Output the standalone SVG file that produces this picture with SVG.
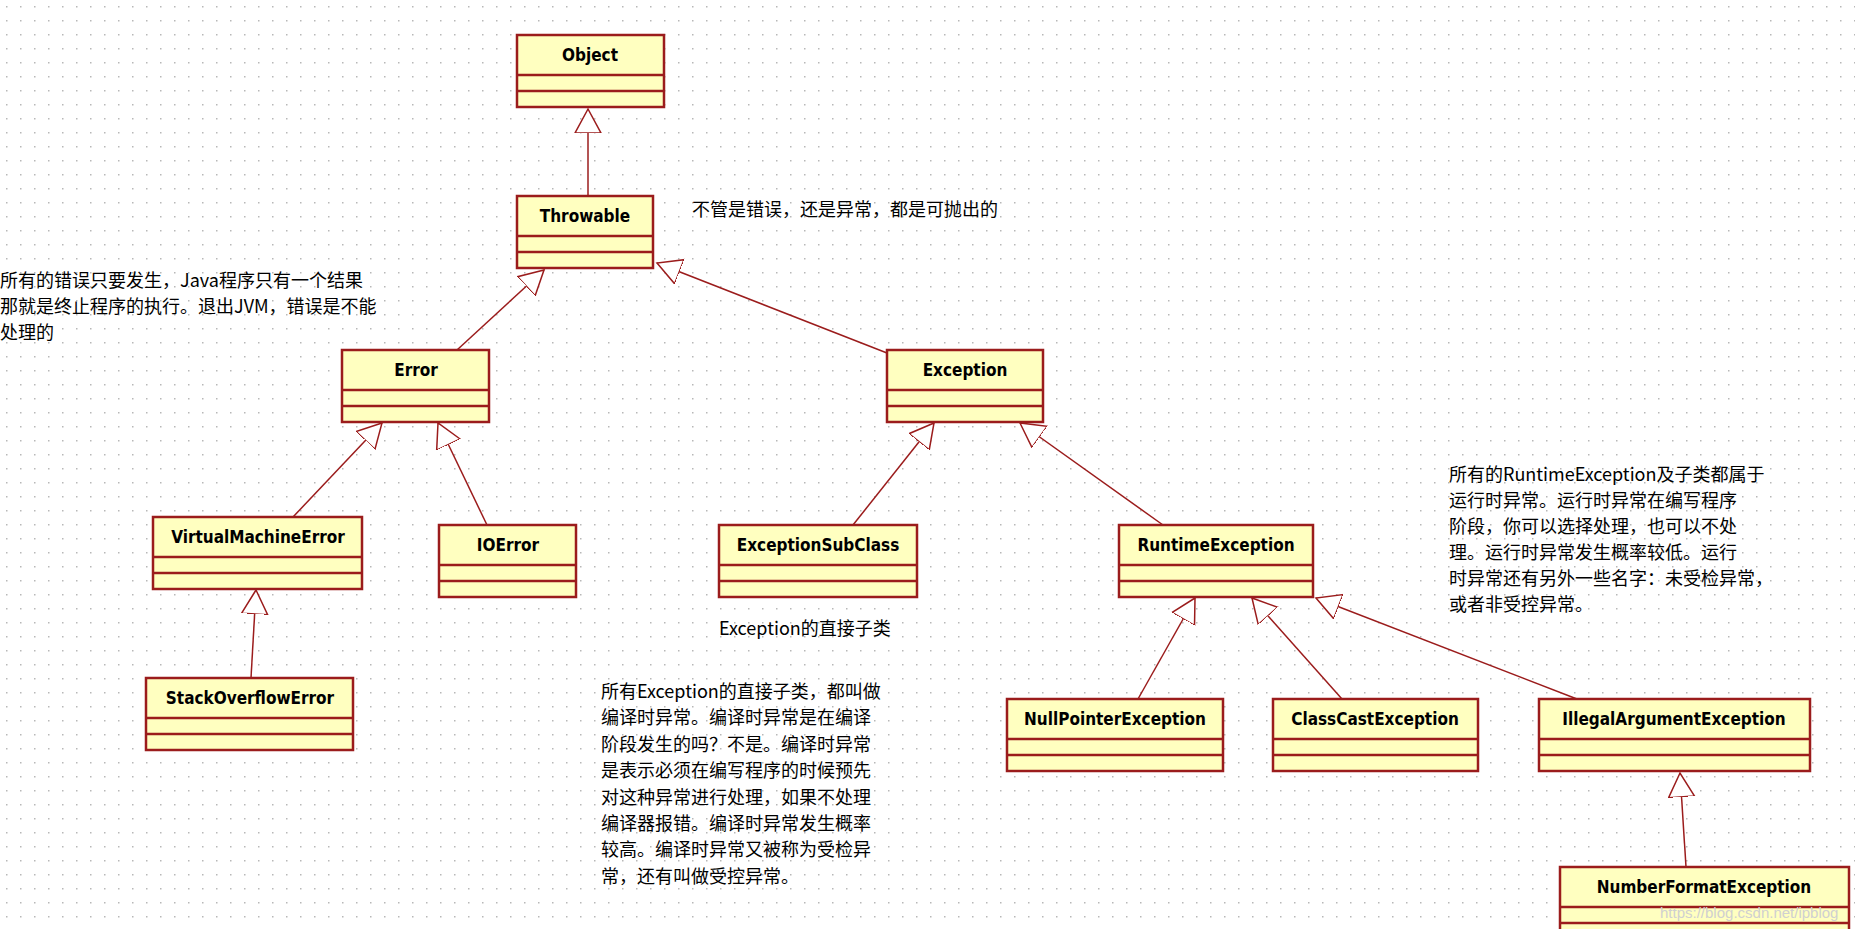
<svg xmlns="http://www.w3.org/2000/svg" width="1855" height="929" viewBox="0 0 1855 929">
<defs>
<pattern id="grid" width="14" height="14" patternUnits="userSpaceOnUse"><rect x="6" y="6" width="1.5" height="1.5" fill="#b8b8b8"/></pattern>
<marker id="tri" markerWidth="30" markerHeight="32" refX="24" refY="14" orient="auto" markerUnits="userSpaceOnUse"><path d="M24,14 L0,1 L0,27 Z" fill="#fff" stroke="#9b1c1c" stroke-width="1.5"/></marker>
<style>
.box rect{fill:#ffffc0;stroke:#9b1c1c;stroke-width:2.5}
.box line{stroke:#9b1c1c;stroke-width:2.5}
.box text{font-family:"DejaVu Sans Condensed","DejaVu Sans",sans-serif;font-weight:bold;font-size:17px;text-anchor:middle;fill:#000}
.con line{stroke:#9b1c1c;stroke-width:1.5;marker-end:url(#tri)}
.note{font-family:"Noto Sans CJK SC",sans-serif;font-size:18px;fill:#000}
</style>
</defs>
<rect width="1855" height="929" fill="#fff"/>
<rect width="1855" height="929" fill="url(#grid)"/>
<g class="con">
<line x1="588" y1="196" x2="588" y2="109"/>
<line x1="457" y1="350" x2="544" y2="270"/>
<line x1="887" y1="353" x2="657" y2="263"/>
<line x1="293" y1="517" x2="382" y2="423"/>
<line x1="487" y1="525" x2="438" y2="423"/>
<line x1="853" y1="525" x2="934" y2="423"/>
<line x1="1163" y1="525" x2="1020" y2="423"/>
<line x1="251" y1="678" x2="256" y2="590"/>
<line x1="1138" y1="699" x2="1195" y2="598"/>
<line x1="1342" y1="699" x2="1252" y2="598"/>
<line x1="1577" y1="699" x2="1316" y2="598"/>
<line x1="1686" y1="867" x2="1680" y2="773"/>
</g>
<g id="Object" class="box"><rect x="517" y="35" width="147" height="72"/><line x1="517" y1="75" x2="664" y2="75"/><line x1="517" y1="91" x2="664" y2="91"/><text x="590" y="61">Object</text></g>
<g id="Throwable" class="box"><rect x="517" y="196" width="136" height="72"/><line x1="517" y1="236" x2="653" y2="236"/><line x1="517" y1="252" x2="653" y2="252"/><text x="585" y="222">Throwable</text></g>
<g id="Error" class="box"><rect x="342" y="350" width="147" height="72"/><line x1="342" y1="390" x2="489" y2="390"/><line x1="342" y1="406" x2="489" y2="406"/><text x="416" y="376">Error</text></g>
<g id="Exception" class="box"><rect x="887" y="350" width="156" height="72"/><line x1="887" y1="390" x2="1043" y2="390"/><line x1="887" y1="406" x2="1043" y2="406"/><text x="965" y="376">Exception</text></g>
<g id="VirtualMachineError" class="box"><rect x="153" y="517" width="209" height="72"/><line x1="153" y1="557" x2="362" y2="557"/><line x1="153" y1="573" x2="362" y2="573"/><text x="258" y="543">VirtualMachineError</text></g>
<g id="IOError" class="box"><rect x="439" y="525" width="137" height="72"/><line x1="439" y1="565" x2="576" y2="565"/><line x1="439" y1="581" x2="576" y2="581"/><text x="508" y="551">IOError</text></g>
<g id="ExceptionSubClass" class="box"><rect x="719" y="525" width="198" height="72"/><line x1="719" y1="565" x2="917" y2="565"/><line x1="719" y1="581" x2="917" y2="581"/><text x="818" y="551">ExceptionSubClass</text></g>
<g id="RuntimeException" class="box"><rect x="1119" y="525" width="194" height="72"/><line x1="1119" y1="565" x2="1313" y2="565"/><line x1="1119" y1="581" x2="1313" y2="581"/><text x="1216" y="551">RuntimeException</text></g>
<g id="StackOverflowError" class="box"><rect x="146" y="678" width="207" height="72"/><line x1="146" y1="718" x2="353" y2="718"/><line x1="146" y1="734" x2="353" y2="734"/><text x="250" y="704">StackOverflowError</text></g>
<g id="NullPointerException" class="box"><rect x="1007" y="699" width="216" height="72"/><line x1="1007" y1="739" x2="1223" y2="739"/><line x1="1007" y1="755" x2="1223" y2="755"/><text x="1115" y="725">NullPointerException</text></g>
<g id="ClassCastException" class="box"><rect x="1273" y="699" width="205" height="72"/><line x1="1273" y1="739" x2="1478" y2="739"/><line x1="1273" y1="755" x2="1478" y2="755"/><text x="1375" y="725">ClassCastException</text></g>
<g id="IllegalArgumentException" class="box"><rect x="1539" y="699" width="271" height="72"/><line x1="1539" y1="739" x2="1810" y2="739"/><line x1="1539" y1="755" x2="1810" y2="755"/><text x="1674" y="725">IllegalArgumentException</text></g>
<g id="NumberFormatException" class="box"><rect x="1560" y="867" width="289" height="72"/><line x1="1560" y1="907" x2="1849" y2="907"/><line x1="1560" y1="923" x2="1849" y2="923"/><text x="1704" y="893">NumberFormatException</text></g>
<g id="notes" class="note">
<text x="692" y="216">不管是错误，还是异常，都是可抛出的</text>
<text x="0" y="287">所有的错误只要发生，Java程序只有一个结果</text>
<text x="0" y="313">那就是终止程序的执行。退出JVM，错误是不能</text>
<text x="0" y="339">处理的</text>
<text x="719" y="635">Exception的直接子类</text>
<text x="601" y="698">所有Exception的直接子类，都叫做</text>
<text x="601" y="724">编译时异常。编译时异常是在编译</text>
<text x="601" y="751">阶段发生的吗？不是。编译时异常</text>
<text x="601" y="777">是表示必须在编写程序的时候预先</text>
<text x="601" y="804">对这种异常进行处理，如果不处理</text>
<text x="601" y="830">编译器报错。编译时异常发生概率</text>
<text x="601" y="856">较高。编译时异常又被称为受检异</text>
<text x="601" y="883">常，还有叫做受控异常。</text>
<text x="1449" y="481">所有的RuntimeException及子类都属于</text>
<text x="1449" y="507">运行时异常。运行时异常在编写程序</text>
<text x="1449" y="533">阶段，你可以选择处理，也可以不处</text>
<text x="1449" y="559">理。运行时异常发生概率较低。运行</text>
<text x="1449" y="585">时异常还有另外一些名字：未受检异常，</text>
<text x="1449" y="611">或者非受控异常。</text>
</g>
<text x="1660" y="918" font-family="Liberation Sans,sans-serif" font-size="15" fill="#d0d0d0">https://blog.csdn.net/ipblog</text>
</svg>
